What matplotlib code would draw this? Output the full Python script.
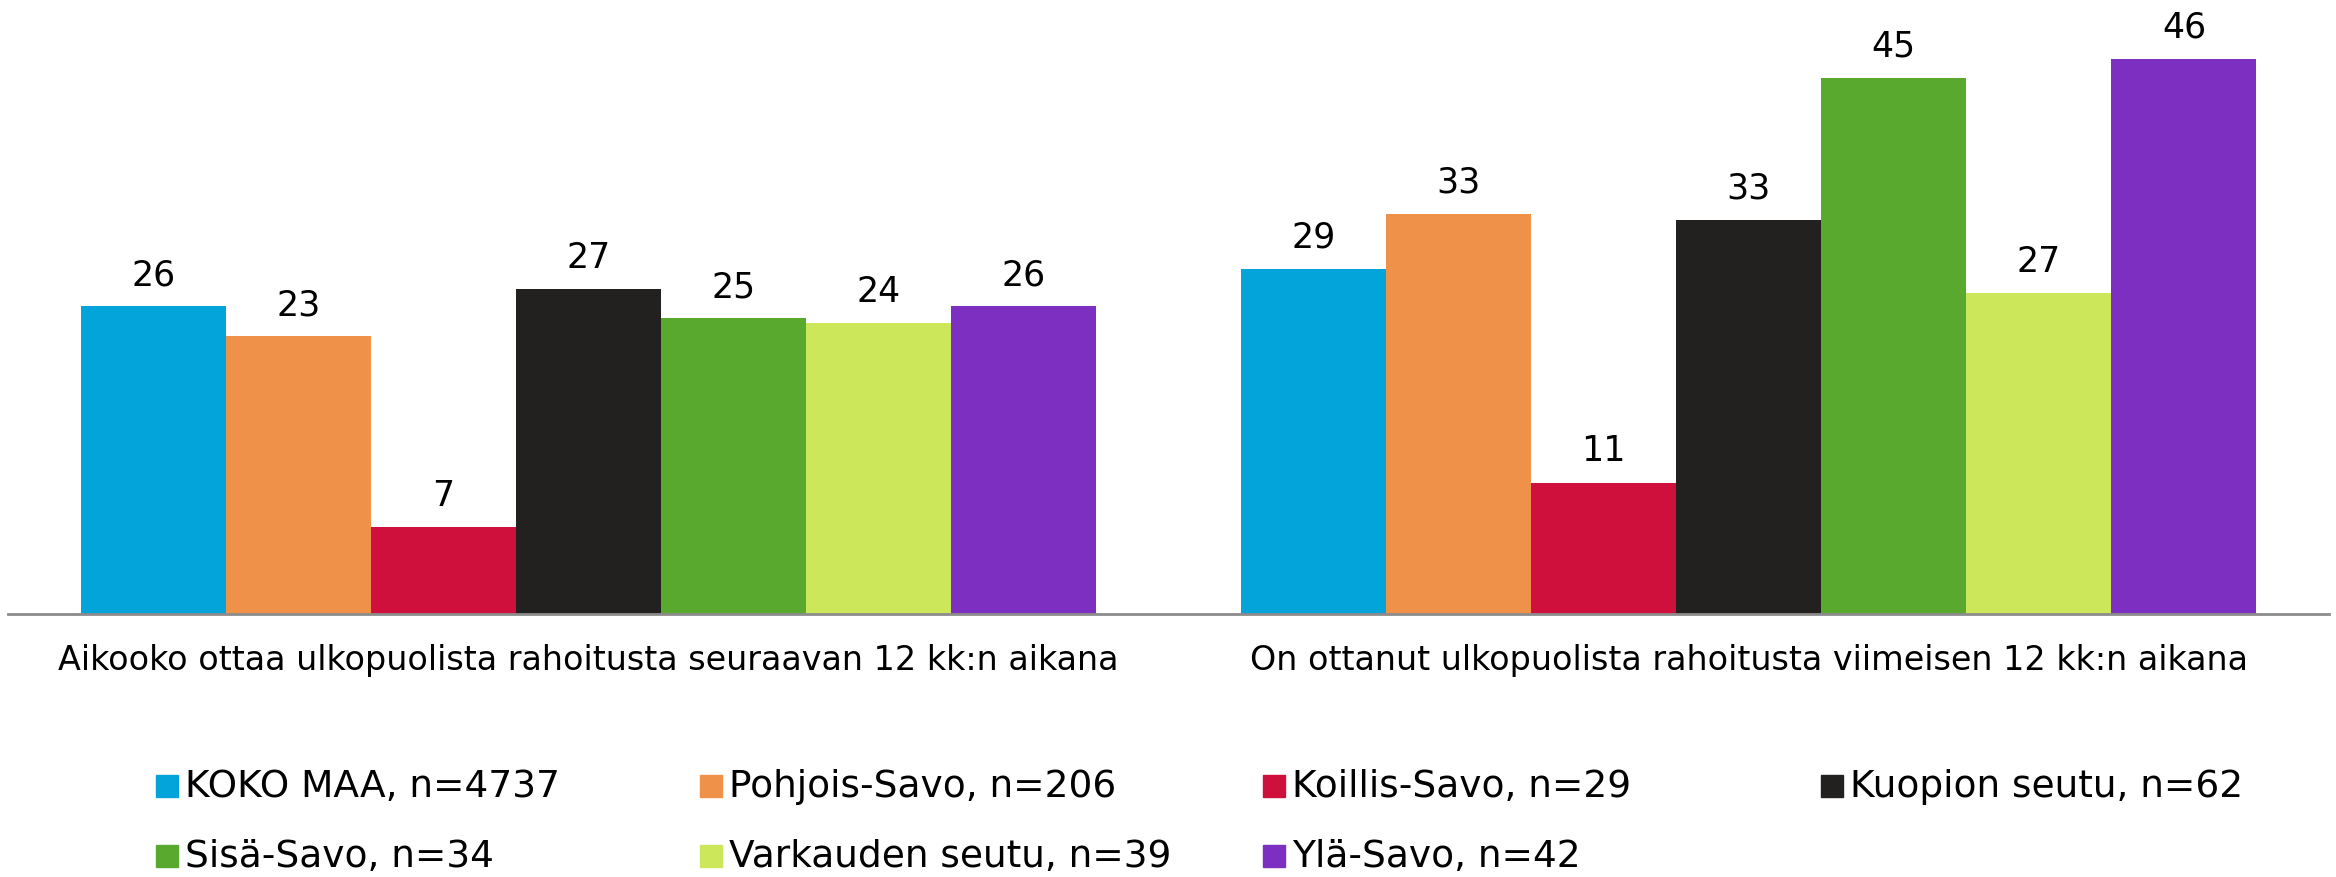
import numpy as np
import matplotlib.pyplot as plt
from matplotlib.patches import Rectangle

categories = ['Aikooko ottaa ulkopuolista rahoitusta seuraavan 12 kk:n aikana',
              'On ottanut ulkopuolista rahoitusta viimeisen 12 kk:n aikana']
series = ['KOKO MAA, n=4737', 'Pohjois-Savo, n=206', 'Koillis-Savo, n=29',
          'Kuopion seutu, n=62', 'Sisä-Savo, n=34', 'Varkauden seutu, n=39',
          'Ylä-Savo, n=42']
# bar heights (unrounded) and shown labels
heights = [[25.6, 28.7], [23.1, 33.3], [7.2, 10.9], [27.0, 32.8],
           [24.6, 44.6], [24.2, 26.7], [25.6, 46.2]]
labels = [[26, 29], [23, 33], [7, 11], [27, 33], [25, 45], [24, 27], [26, 46]]
colors = ['#02A4DA', '#F0914A', '#CF103D', '#222120', '#58A92E', '#CDE75A', '#7D2FC2']

font = 'DejaVu Sans'
fig = plt.figure(figsize=(23.36, 8.78), dpi=100)
ax = fig.add_axes([0.0035, 0.30, 0.9935, 0.70])

x = np.arange(len(categories))
w = 0.125
for i, name in enumerate(series):
    pos = x + (i - 3) * w
    ax.bar(pos, heights[i], w, color=colors[i], label=name)
    for px, h, lab in zip(pos, heights[i], labels[i]):
        ax.annotate(str(lab), (px, h), xytext=(0, 11), textcoords='offset points',
                    ha='center', va='bottom', fontsize=25, family=font)

ax.set_xlim(-0.5, 1.5)
ax.set_ylim(0, 51.2)
ax.set_yticks([])
ax.set_xticks(x)
ax.set_xticklabels(categories, fontsize=24, family=font)
ax.tick_params(axis='x', length=0, pad=21)
for s in ['top', 'right', 'left']:
    ax.spines[s].set_visible(False)
ax.spines['bottom'].set_color('#8C8C8C')
ax.spines['bottom'].set_linewidth(2)

# legend, 4 columns x 2 rows
col_x = [156, 700, 1263, 1821]
row_y = [787, 857]
W, H = 2336, 878
for i, name in enumerate(series):
    cx = col_x[i % 4]
    cy = row_y[i // 4]
    fig.add_artist(Rectangle(((cx) / W, (H - cy - 11) / H), 22 / W, 22 / H,
                             transform=fig.transFigure, color=colors[i]))
    fig.text((cx + 29) / W, (H - cy) / H, name, fontsize=27, family=font,
             va='center', ha='left')

fig.savefig('out.png', dpi=100)
